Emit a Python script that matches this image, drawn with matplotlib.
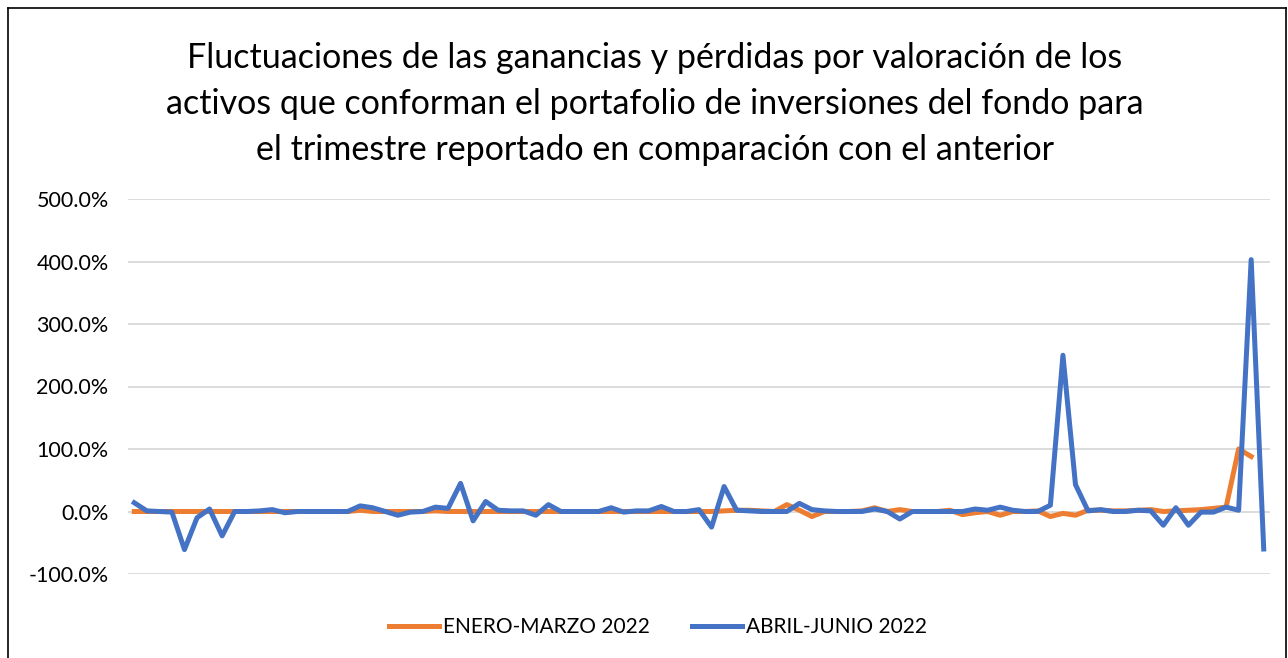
import matplotlib
matplotlib.use('Agg')
import matplotlib.pyplot as plt
from matplotlib.lines import Line2D
from matplotlib.ticker import FuncFormatter

# values in percent
enero_marzo = [
    0, 0, 0, 0, 0, 0, 0, 0, 0, 0,
    0, 0, 0, 0, 0, 0, 0, 0, 2, 0,
    0, 0, 0, 0, 1, 0, 0, 0, 0, 0,
    0, 0, 0, 0, 0, 0, 0, 0, 0, 0,
    0, 0, 0, 0, 0, 0, 0, 1, 2, 2,
    1, 0, 11, 2, -8, 0, 0, 0, 1, 6,
    0, 3, 0, 0, 0, 2, -5, -2, 0, -6,
    0, 0, 1, -8, -3, -6, 2, 2, 1, 1,
    2, 3, 0, 1, 2, 3, 5, 7, 100, 88,
]
abril_junio = [
    14, 1, 0, -1, -61, -10, 4, -39, 0, 0,
    1, 3, -2, 0, 0, 0, 0, 0, 9, 6,
    0, -6, -1, 0, 7, 5, 45, -15, 16, 2,
    1, 1, -6, 11, 0, 0, 0, 0, 6, -1,
    1, 1, 8, 0, 0, 3, -25, 40, 2, 1,
    0, 0, 0, 13, 3, 1, 0, 0, 0, 4,
    0, -12, 0, 0, 0, 0, 0, 4, 2, 7,
    2, 0, 0, 10, 250, 43, 1, 3, 0, 0,
    2, 1, -22, 6, -22, -1, -1, 7, 2, 403,
    -60,
]
labels = ['ENERO-MARZO 2022', 'ABRIL-JUNIO 2022']
title = ('Fluctuaciones de las ganancias y pérdidas por valoración de los\n'
         'activos que conforman el portafolio de inversiones del fondo para\n'
         'el trimestre reportado en comparación con el anterior')

plt.rcParams['font.family'] = ['Lato', 'DejaVu Sans']

fig = plt.figure(figsize=(12.88, 6.58), dpi=100)
ax = fig.add_axes([128 / 1288, 1 - 574 / 658, 1142 / 1288, 375 / 658])

ax.plot(range(len(enero_marzo)), enero_marzo, color='#ED7D31', linewidth=3.6,
        label=labels[0], solid_joinstyle='round')
ax.plot(range(len(abril_junio)), abril_junio, color='#4472C4', linewidth=3.6,
        label=labels[1], solid_joinstyle='round')

ax.set_xlim(-0.5, len(abril_junio) - 0.5)
ax.set_ylim(-100, 500)
ax.set_yticks(range(-100, 501, 100))
ax.yaxis.set_major_formatter(FuncFormatter(lambda v, p: f'{v:.1f}%'))
ax.set_xticks([])
ax.grid(axis='y', color='#d9d9d9', linewidth=1.3)
ax.set_axisbelow(True)
for s in ax.spines.values():
    s.set_visible(False)
ax.tick_params(axis='y', length=0, pad=14, labelsize=15.5, labelcolor='#000000')

fig.text(655 / 1288, 1 - 104 / 658, title, ha='center', va='center',
         fontsize=24.5, linespacing=1.55)

fig.legend(loc='center', bbox_to_anchor=(658 / 1288, 1 - 627 / 658), ncol=2,
           frameon=False, fontsize=15, handlelength=2.4, columnspacing=2.0,
           handletextpad=0.2)

# chart border
fig.add_artist(Line2D([8 / 1288, 8 / 1288], [0, 1 - 8 / 658], color='black', linewidth=1.2))
fig.add_artist(Line2D([8 / 1288, 1286 / 1288], [1 - 8 / 658, 1 - 8 / 658], color='black', linewidth=1.2))
fig.add_artist(Line2D([1286 / 1288, 1286 / 1288], [0, 1 - 8 / 658], color='black', linewidth=1.2))

fig.savefig('out.png', dpi=100)
plt.close(fig)
